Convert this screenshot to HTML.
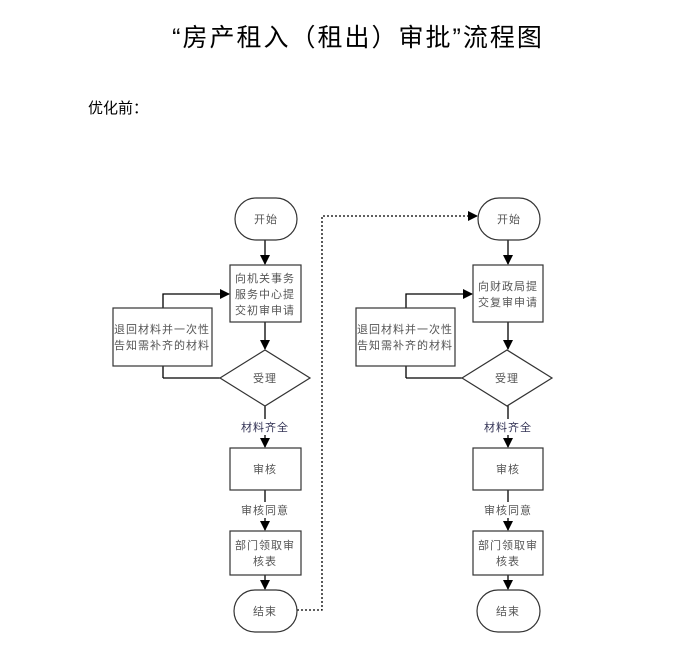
<!DOCTYPE html>
<html><head><meta charset="utf-8"><style>
body{margin:0;background:#fff;width:696px;height:659px;overflow:hidden}
svg{display:block}
text{font-family:"Liberation Sans","Noto Sans CJK SC",sans-serif}
.n{font-size:11px;fill:#555;letter-spacing:1px}
</style></head><body>
<svg width="696" height="659" viewBox="0 0 696 659">
<defs><marker id="a" markerWidth="10" markerHeight="10" refX="9" refY="5" orient="auto" markerUnits="userSpaceOnUse"><path d="M0,0 L10,5 L0,10 z" fill="#000"/></marker></defs>
<text x="358" y="46" font-size="25" text-anchor="middle" fill="#000" letter-spacing="2">“房产租入（租出）审批”流程图</text>
<text x="88" y="113" font-size="15" fill="#000">优化前：</text>
<g stroke="#000" stroke-width="1.3" fill="none">
<path d="M163,378 H220 M163,378 V294 H229" marker-end="url(#a)"/>
<line x1="265" y1="240" x2="265" y2="264" marker-end="url(#a)"/>
<line x1="265" y1="322" x2="265" y2="349" marker-end="url(#a)"/>
<line x1="265" y1="405" x2="265" y2="447" marker-end="url(#a)"/>
<line x1="265" y1="490" x2="265" y2="530" marker-end="url(#a)"/>
<line x1="265" y1="575" x2="265" y2="589" marker-end="url(#a)"/>
<path d="M406,378 H462 M406,378 V294 H472" marker-end="url(#a)"/>
<line x1="508" y1="240" x2="508" y2="264" marker-end="url(#a)"/>
<line x1="508" y1="322" x2="508" y2="349" marker-end="url(#a)"/>
<line x1="508" y1="405" x2="508" y2="447" marker-end="url(#a)"/>
<line x1="508" y1="490" x2="508" y2="530" marker-end="url(#a)"/>
<line x1="508" y1="575" x2="508" y2="589" marker-end="url(#a)"/>
<path d="M297,610 H322 V216 H477" stroke-dasharray="2,2" marker-end="url(#a)"/>
</g>
<g stroke="#333" stroke-width="1.2" fill="#fff">
<rect x="235" y="198" width="62" height="42" rx="21"/>
<rect x="230" y="265" width="71" height="57"/>
<rect x="113" y="308" width="99" height="58"/>
<path d="M220,378 L265,350 L310,378 L265,406 z"/>
<rect x="230" y="448" width="71" height="42"/>
<rect x="230" y="531" width="71" height="44"/>
<rect x="234" y="590" width="63" height="42" rx="21"/>
<rect x="478" y="198" width="62" height="42" rx="21"/>
<rect x="473" y="265" width="70" height="57"/>
<rect x="356" y="308" width="99" height="58"/>
<path d="M462,378 L507,350 L552,378 L507,406 z"/>
<rect x="473" y="448" width="70" height="42"/>
<rect x="473" y="531" width="70" height="44"/>
<rect x="477" y="590" width="63" height="42" rx="21"/>
</g>
<g fill="#fff">
<rect x="240" y="419" width="50" height="16"/><rect x="240" y="502" width="50" height="16"/>
<rect x="483" y="419" width="50" height="16"/><rect x="483" y="502" width="50" height="16"/>
</g>
<g class="n" text-anchor="middle">
<text x="266" y="223">开始</text>
<text x="265" y="282">向机关事务</text><text x="265" y="298">服务中心提</text><text x="265" y="314">交初审申请</text>
<text x="162" y="333">退回材料并一次性</text><text x="162" y="349">告知需补齐的材料</text>
<text x="265" y="382">受理</text>
<text x="265" y="431" fill="#335">材料齐全</text>
<text x="265" y="473">审核</text>
<text x="265" y="514">审核同意</text>
<text x="265" y="549">部门领取审</text><text x="265" y="565">核表</text>
<text x="265" y="615">结束</text>
<text x="509" y="223">开始</text>
<text x="508" y="290">向财政局提</text><text x="508" y="306">交复审申请</text>
<text x="405" y="333">退回材料并一次性</text><text x="405" y="349">告知需补齐的材料</text>
<text x="507" y="382">受理</text>
<text x="508" y="431" fill="#335">材料齐全</text>
<text x="508" y="473">审核</text>
<text x="508" y="514">审核同意</text>
<text x="508" y="549">部门领取审</text><text x="508" y="565">核表</text>
<text x="508" y="615">结束</text>
</g>
</svg>
</body></html>
